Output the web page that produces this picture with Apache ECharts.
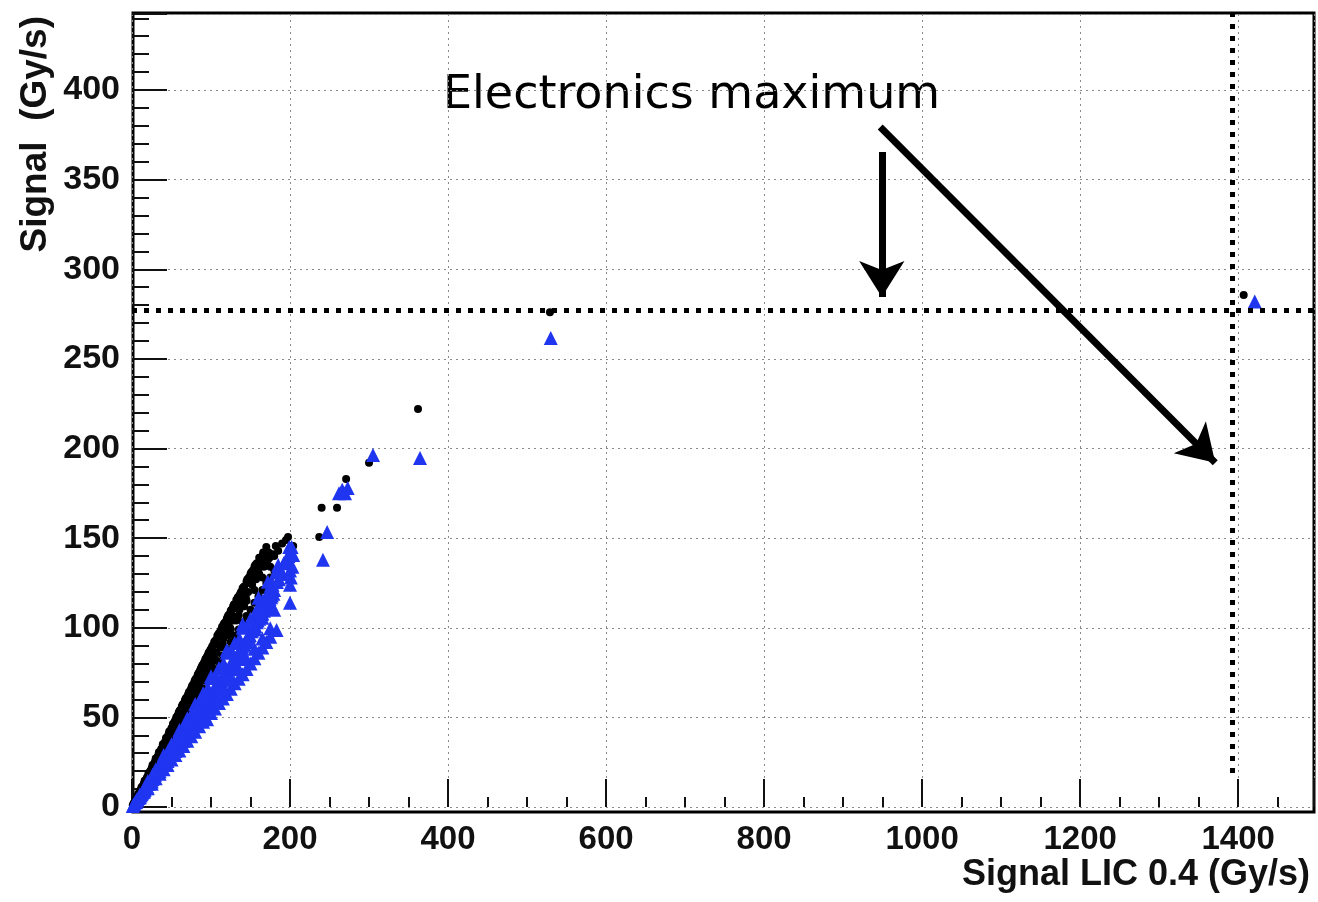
<!DOCTYPE html>
<html>
<head>
<meta charset="utf-8">
<title>Signal vs Signal LIC 0.4</title>
<script src="https://cdn.jsdelivr.net/npm/echarts@6/dist/echarts.min.js"></script>
<style>
    html, body { margin: 0; padding: 0; background: #fff; }
    #chart { width: 1318px; height: 902px; }
</style>
</head>
<body>
<div id="chart"></div>
<script>
// black dots (signal vs LIC 0.4)
var blackPoints = [
    [1,1],[2,2],[3,2.5],[4,3.5],[5,4],[6,5.2],[7,6],[8,6.5],[9,7.8],[10,8.5],[11,9.6],[12,10],[13,11.2],[14,12],
    [15,13.1],[16,13.5],[17,14.8],[18,15.2],[19,16.5],[20,17],[21,18.3],[22,18.6],[23,20],[24,20.4],[25,21.8],
    [26,22],[27,23.5],[28,23.8],[29,25.2],[30,25.5],[31,26.8],[32,27.5],[33,28.6],[34,29],[35,30.5],[36,31],
    [37,32.4],[38,32.6],[40,34.8],[41,35.5],[42,36.5],[43,37],[44,38.6],[45,39],[46,40.1],[47,41],[48,42.4],
    [49,42.5],[50,44],[51,44.5],[52,46],[53,46.3],[54,47.5],[55,48.5],[56,49],[57,50.5],[58,51],[59,52.4],
    [60,53],[61,54],[62,54.2],[63,56],[64,56.4],[65,57.5],[66,58],[67,59.6],[68,60],[69,61],[70,61.5],
    [71,62.8],[72,63],[73,64.5],[74,65],[75,66.2],[76,67],[77,68],[78,68.4],[79,70],[80,70.5],[81,71.5],
    [82,72],[83,73.5],[84,74],[85,75],[86,76],[87,77],[88,77.5],[89,79],[90,79.5],[91,80.4],[92,81],
    [93,82.5],[94,83],[95,84],[96,84.5],[97,86],[98,86.4],[99,87.5],[100,88],[102,90],[104,92],[106,93],
    [108,95.5],[110,97],[112,98],[114,100.5],[116,102],[118,103],[120,105],[122,107],[124,108],[126,110],
    [128,112],[130,113],[132,115.5],[134,117],[136,118],[138,120],[140,122],[142,123],[145,126],[148,128],
    [150,130],[153,132],[155,134],[158,136],[160,133],[163,138],[165,140],[168,137],[172,138],
    [12,9],[15,11.5],[22,17],[25,19],[32,25],[35,27],[42,33],[45,35],[52,41],[55,43],[62,49],[65,51],
    [72,57],[75,59],[82,65],[85,67],[92,73],[95,75],[102,81],[105,83],[112,89],[115,91],[122,96],[125,99],
    [132,104],[135,107],[142,112],[145,115],[155,121],[165,128],[175,134],
    [3,2.2],[6,4.6],[9,7],[14,10.8],[18,14],[23,18],[27,21],[31,24.5],[36,28.5],[39,31.5],[44,35.5],[48,38],
    [53,42.5],[57,45.5],[61,48.5],[66,53],[69,55],[74,59.5],[78,62.5],[83,66.5],[87,70],[91,73],[96,77.5],
    [99,80],[103,83.5],[107,86],[111,90],[116,94],[119,96],[124,100],[128,104],[131,106],[136,110],[139,113],
    [144,117],[147,120],[152,124],[157,127],[161,130],[167,134],[170,136],[174,139],[178,141],
    [4,4],[8,7.4],[12,11],[16,14.6],[21,19],[26,23.5],[30,27],[34,30.6],[39,35],[43,38.5],[47,42],[52,46.5],
    [56,50],[60,53.6],[64,57],[68,60.5],[72,64],[76,67.5],[80,71],[84,74.5],[88,78],[93,82],[97,85.6],
    [101,89],[105,92.5],[109,96],[113,99],[117,102.5],[121,106],[125,109.5],[129,113],[133,116],[137,119],
    [141,122.5],[146,127],[151,131],[156,135],[161,139],[166,142],[170,145],
    [5,3.7],[10,7.4],[15,11],[20,14.8],[25,18.3],[30,22],[35,25.7],[40,29.5],[45,33],[50,36.8],[55,40.5],
    [60,44],[65,48],[70,51.5],[75,55],[80,59],[85,62.5],[90,66],[95,70],[100,73.5],[105,77],[110,81],
    [115,84.5],[120,88],[125,92],[130,95.5],[135,99],[140,103],[145,106.5],[150,110],[155,114],[160,117.5],
    [165,121],[170,125],[175,128],[180,132],
    [7,5.9],[13,10.9],[19,16],[24,20.2],[29,24.4],[34,28.6],[38,31.9],[44,37],[49,41.2],[54,45.4],[59,49.6],
    [63,53],[68,57.1],[73,61.3],[78,65.5],[83,69.7],[88,73.9],[92,77.3],[98,82.3],[103,86.5],[108,90.7],
    [113,94.9],[118,99.1],[123,103.3],[127,106.7],[132,110.9],[137,115.1],[143,120],[149,125],[154,129],
    [159,133],[164,137],[169,141],[173,142],[180,140],[185,143],[190,147],[195,149],
    [182,145.6],[197.5,150.6],[204,145.6],[237,150.6],[240,167],[259.5,167],[271,183],[300,192],
    [362,222],[529,276],[1407,285.6]
];

// blue triangles
var bluePoints = [
    [1,0.5],[3,1.8],[5,3],[7,4.2],[9,5.5],[11,6.5],[13,8],[15,9],[17,10.5],[19,11.5],[21,13],[23,14],
    [25,15.5],[27,16.5],[29,18],[31,19],[33,20.5],[35,21.5],[37,23],[39,24],[41,25.5],[43,26.5],[45,28],
    [47,29],[49,30.5],[51,31.5],[53,33],[55,34],[57,35.5],[59,36.5],[61,38],[63,39],[65,40.5],[67,41.5],
    [69,43],[71,44],[73,45.5],[75,46.5],[77,48],[79,49],[81,50.5],[83,51.5],[85,53],[87,54],[89,55.5],
    [91,56.5],[93,58],[95,59],[97,60.5],[99,61.5],[101,63],[103,64],[105,65.5],[107,66.5],[109,68],
    [111,69],[113,70.5],[115,71.5],[117,73],[119,74],[121,75.5],[123,77],[125,78],[127,80],[129,81],
    [131,83],[133,84],[135,86],[137,87],[139,89],[141,90],[143,92],[145,93],[147,95],[149,96],[151,98],
    [153,99.5],[156,101],[159,104],[162,106],[165,108],[168,111],[171,113],[174,116],[177,118],[180,121],
    [2,1.2],[4,2.6],[6,3.8],[8,5],[10,6.4],[12,7.2],[14,8.6],[16,9.6],[18,11],[22,13.2],[24,14.8],[26,15.6],
    [28,17.2],[32,19.4],[34,21],[36,22],[38,23.6],[42,25.6],[44,27.2],[46,28],[48,30],[52,31.8],[54,33.5],
    [56,34.2],[58,36],[62,38],[64,40],[66,40.5],[68,42.5],[72,44.5],[74,46],[76,47],[78,48.5],[82,50.5],
    [84,52.5],[86,53],[88,55],[92,57],[94,58.5],[96,59.5],[98,61],[102,63.5],[104,65],[106,66],[108,67.5],
    [112,70],[114,71],[116,72.5],[118,74],[122,76.5],[124,77.5],[126,79],[128,80.5],[132,83.5],[134,85],
    [136,86.5],[138,88],[142,91],[144,92.5],[146,94],[148,95.5],[152,98.5],[155,100],[158,103],[161,105],
    [164,107.5],[167,109.5],[170,112],[173,114],[176,117],[179,119],
    [10,5.5],[20,10.5],[25,13],[30,16],[35,18.5],[40,21],[45,23.5],[50,26.5],[55,29],[60,31.5],[65,34],
    [70,37],[75,39.5],[80,42],[85,45],[90,47.5],[95,49],[100,52.5],[105,55],[110,58],[115,60.5],[120,63],
    [125,66],[130,69],[135,71.5],[140,74],[145,77],[150,80],[155,83],[160,86],[165,89],[170,92],[175,95],
    [183,98.7],
    [5,2.8],[15,8.5],[25,14.2],[35,20],[45,25.6],[55,31.3],[65,37],[75,42.7],[85,48.4],[95,54],[105,59.8],
    [115,65.5],[125,71.2],[135,77],[145,82.6],[155,88.3],[165,94],[175,99.7],
    [5,3.2],[15,9.6],[25,16],[35,22.4],[45,28.8],[55,35.2],[65,41.6],[75,48],[85,54.4],[95,60.8],[105,67.2],
    [115,73.6],[125,80],[135,86.4],[145,92.8],[155,99.2],[165,105.6],[175,112],
    [6,4.1],[16,11],[26,18],[36,24.8],[46,31.7],[56,38.6],[66,45.5],[76,52.4],[86,59.3],[96,66.2],[106,73.1],
    [116,80],[126,87],[136,93.8],[146,100.7],[156,107.6],[166,114.5],[174,120],
    [100,73],[120,87.6],[140,102],[160,116.8],[172,125.6],[182,131],[185,135],
    [10,7],[20,14.5],[30,21],[40,29],[50,35],[60,43],[70,49.5],[80,57.5],[90,63.5],[100,72],[110,77.5],
    [120,86],[130,91.5],[140,100],[150,105],[160,112],[165,115],[170,118],[176,124],[178,124],
    [183.5,125.5],[180,110],[186,127],[188,132],[190,130],[192,136],[195,138],[198,140],[200,114],
    [200,124],[200,132],[201,128],[203,134],[204,140.6],[202,145],[199,145],
    [241.7,138],[247,153.4],[262,175],[266,177],[269.6,175],[273,178],[305,196.4],[364.5,194.7],
    [530,261.6],[1421,282]
];

var xRange = [0, 1496];
var yRange = [0, 442.4];
var maxSignal = 277.3;      // horizontal limit
var maxLic = 1392;          // vertical limit
var arrowDown = [[949, 365.4], [949, 284.5]];
var arrowDiag = [[947, 379.4], [1371, 192]];

var myChart = echarts.init(document.getElementById('chart'));

var labelFont = { color: '#111', fontFamily: 'Liberation Sans', fontWeight: 'bold' };

var option = {
    backgroundColor: '#fff',
    animation: false,
    grid: [
        // frame only
        { left: 133, top: 13, right: 4, bottom: 90, show: true, borderColor: '#000', borderWidth: 3, backgroundColor: 'transparent' },
        // data area
        { left: 132, top: 14, right: 4, bottom: 95 }
    ],
    graphic: [
        {
            type: 'text',
            left: 443,
            top: 73,
            style: {
                text: 'Electronics maximum',
                fontFamily: 'DejaVu Sans',
                fontSize: 46,
                fill: '#000'
            }
        }
    ],
    xAxis: [
        { gridIndex: 0, type: 'value', min: 0, max: 1, show: false },
        {
            gridIndex: 1,
            type: 'value',
            min: xRange[0],
            max: xRange[1],
            interval: 200,
            name: 'Signal LIC 0.4 (Gy/s)',
            nameLocation: 'end',
            nameGap: -4,
            nameTextStyle: {
                fontFamily: 'Liberation Sans', fontWeight: 'bold', fontSize: 36, color: '#111',
                align: 'right', verticalAlign: 'top', padding: [50, 0, 0, 0]
            },
            axisLine: { show: false },
            axisTick: { show: true, inside: true, length: 28, lineStyle: { color: '#111', width: 2 } },
            minorTick: { show: true, splitNumber: 4, length: 10, lineStyle: { color: '#111', width: 2 } },
            axisLabel: Object.assign({
                fontSize: 33, margin: 16, showMaxLabel: false,
                formatter: function (v) { return String(v); }
            }, labelFont),
            splitLine: { show: true, lineStyle: { color: '#8a8a8a', width: 1, type: [2, 4] } }
        }
    ],
    yAxis: [
        { gridIndex: 0, type: 'value', min: 0, max: 1, show: false },
        {
            gridIndex: 1,
            type: 'value',
            min: yRange[0],
            max: yRange[1],
            interval: 50,
            name: 'Signal  (Gy/s)',
            nameLocation: 'end',
            nameRotate: 90,
            nameGap: -2,
            nameTextStyle: {
                fontFamily: 'Liberation Sans', fontWeight: 'bold', fontSize: 37, color: '#111',
                align: 'right', verticalAlign: 'bottom', padding: [0, 0, 78, 0]
            },
            axisLine: { show: false },
            axisTick: { show: true, inside: true, length: 35, lineStyle: { color: '#111', width: 2 } },
            minorTick: { show: true, splitNumber: 5, length: 17, lineStyle: { color: '#111', width: 2 } },
            axisLabel: Object.assign({ fontSize: 34, margin: 12, showMaxLabel: false }, labelFont),
            splitLine: { show: true, lineStyle: { color: '#8a8a8a', width: 1, type: [2, 4] } }
        }
    ],
    series: [
        {
            name: 'LIC',
            type: 'scatter',
            xAxisIndex: 1,
            yAxisIndex: 1,
            symbol: 'circle',
            symbolSize: 8,
            itemStyle: { color: '#000', opacity: 1 },
            data: blackPoints
        },
        {
            name: 'Detector',
            type: 'scatter',
            xAxisIndex: 1,
            yAxisIndex: 1,
            symbol: 'triangle',
            symbolSize: 14,
            itemStyle: { color: '#1f35f0', opacity: 1 },
            data: bluePoints
        },
        {
            name: 'limits',
            type: 'scatter',
            xAxisIndex: 1,
            yAxisIndex: 1,
            data: [],
            markLine: {
                silent: true,
                symbol: ['none', 'none'],
                label: { show: false },
                lineStyle: { color: '#000', width: 5, type: [5, 7], cap: 'butt' },
                data: [
                    [{ coord: [xRange[0], maxSignal] }, { coord: [xRange[1], maxSignal] }],
                    [{ coord: [maxLic, 19] }, { coord: [maxLic, yRange[1]] }]
                ]
            }
        },
        {
            name: 'arrows',
            type: 'scatter',
            xAxisIndex: 1,
            yAxisIndex: 1,
            data: [],
            markLine: {
                silent: true,
                symbol: ['none', 'arrow'],
                symbolSize: [34, 36],
                label: { show: false },
                lineStyle: { color: '#000', width: 7, type: 'solid' },
                itemStyle: { color: '#000' },
                data: [
                    [{ coord: arrowDown[0] }, { coord: arrowDown[1] }],
                    [{ coord: arrowDiag[0] }, { coord: arrowDiag[1] }]
                ]
            }
        }
    ]
};

myChart.setOption(option);
</script>
</body>
</html>
